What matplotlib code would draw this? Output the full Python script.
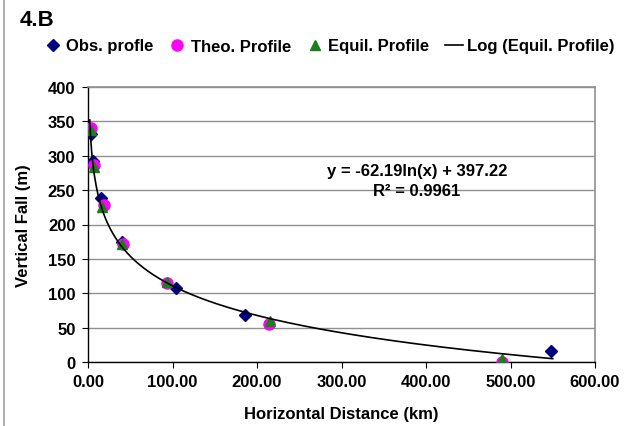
import numpy as np
import matplotlib.pyplot as plt
from matplotlib.lines import Line2D

plt.rcParams['font.family'] = ['Liberation Sans', 'DejaVu Sans']

# observed profile (km, m)
obs_x = [3.2, 6.3, 15.4, 39.8, 104.0, 185.8, 548.0]
obs_y = [331, 293, 239, 174, 108, 69, 16]
# theoretical profile
theo_x = [3.0, 7.5, 19.0, 41.8, 93.9, 214.6, 490.0]
theo_y = [341, 287, 228, 171, 115, 56, 0]
# equilibrium profile
equil_x = [3.0, 7.0, 17.0, 40.5, 93.0, 215.4, 490.3]
equil_y = [338, 283, 226, 172, 116, 60, 4]

# log fit reported on the chart
fit_a, fit_b = -62.19, 397.22
fit_range = (2.07, 550)

fig = plt.figure(figsize=(6.33, 4.27), dpi=100)
ax = fig.add_axes([88 / 633, 1 - 363 / 427, 507 / 633, 275 / 427])

ax.plot(obs_x, obs_y, 'D', color='#000080', ms=6, ls='none', zorder=3, label='Obs. profle')
ax.plot(theo_x, theo_y, 'o', color='#ff00ff', ms=8, ls='none', zorder=4, label='Theo. Profile')
ax.plot(equil_x, equil_y, '^', color='#1a7f1a', ms=6.5, ls='none', zorder=5, label='Equil. Profile')

xs = np.linspace(fit_range[0], fit_range[1], 500)
ax.plot(xs, fit_a * np.log(xs) + fit_b, color='black', lw=1.2, zorder=6,
        label='Log (Equil. Profile)')

ax.set_xlim(0, 600)
ax.set_ylim(0, 400)
ax.set_xticks(np.arange(0, 601, 100))
ax.set_yticks(np.arange(0, 401, 50))
ax.set_xticklabels(['%.2f' % v for v in np.arange(0, 601, 100)])
ax.yaxis.grid(True, color='#909090', lw=1)
ax.set_axisbelow(True)
for s in ['top', 'right']:
    ax.spines[s].set_color('#909090')
    ax.spines[s].set_linewidth(1.2)
for s in ['left', 'bottom']:
    ax.spines[s].set_color('black')
    ax.spines[s].set_linewidth(1)
ax.tick_params(direction='out', length=4, labelsize=12, pad=5)
for lab in ax.get_xticklabels() + ax.get_yticklabels():
    lab.set_fontweight('bold')

ax.set_xlabel('Horizontal Distance (km)', fontsize=12, fontweight='bold', labelpad=12)
ax.set_ylabel('Vertical Fall (m)', fontsize=12, fontweight='bold', labelpad=12)

ax.text(389, 278, 'y = -62.19ln(x) + 397.22', ha='center', va='center',
        fontsize=12, fontweight='bold')
ax.text(389, 249, 'R² = 0.9961', ha='center', va='center',
        fontsize=12, fontweight='bold')

fig.text(20 / 633, 1 - 20 / 427, '4.B', fontsize=16, fontweight='bold', va='center')

handles, labels = ax.get_legend_handles_labels()
fig.legend(handles, labels, ncol=4, loc='center', bbox_to_anchor=(329 / 633, 1 - 47 / 427),
           frameon=False, prop={'size': 12, 'weight': 'bold'}, handlelength=1.1,
           handletextpad=0.25, columnspacing=0.9, borderpad=0)

fig.add_artist(Line2D([4 / 633, 4 / 633], [0, 1], color='#a0a0a0', lw=1.2))

fig.savefig('out.png', dpi=100)
